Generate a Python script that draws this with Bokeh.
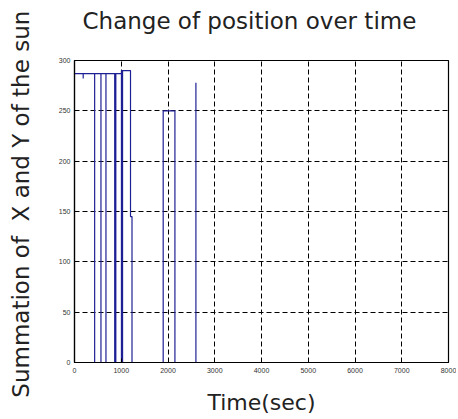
from bokeh.plotting import figure
from bokeh.models import FixedTicker, Range1d, Title
from bokeh.embed import file_html
from bokeh.resources import INLINE

# ---- data ----
time_sec = [0, 186, 186, 186,
            431, 431, 431,
            566, 566, 566,
            673, 673, 673,
            860, 860, 860, 872, 872, 872, 884, 884, 884,
            1004, 1004, 1004, 1016, 1016, 1016, 1028, 1028, 1028,
            1198, 1198, 1230, 1230,
            1897, 1897, 2148, 2148,
            2597, 2597, 2597,
            8000]
xy_sum = [287, 287, 282, 287,
          287, 0, 287,
          287, 0, 287,
          287, 0, 287,
          287, 0, 287, 287, 0, 287, 287, 0, 287,
          287, 0, 290, 290, 0, 290, 290, 0, 290,
          290, 145, 145, 0,
          0, 250, 250, 0,
          0, 278, 0,
          0]
x_ticks = [0, 1000, 2000, 3000, 4000, 5000, 6000, 7000, 8000]
y_ticks = [0, 50, 100, 150, 200, 250, 300]
title_text = "Change of position over time"

p = figure(width=456, height=417, output_backend="svg", toolbar_location=None,
           x_range=Range1d(0, 8000), y_range=Range1d(0, 300),
           min_border_left=74, min_border_right=8, min_border_top=60, min_border_bottom=55,
           title=title_text)

# thin spacer between the frame and the title, pushes the title upwards
spacer = Title(text="\u00a0", text_font_size="2px", standoff=17, text_color="white")
p.add_layout(spacer, "above")

p.line(time_sec, xy_sum, line_color="#1f1f95", line_width=1.2)

p.title.align = "left"
p.title.offset = 8
p.title.vertical_align = "top"
p.title.standoff = 8
p.title.text_font = "DejaVu Sans"
p.title.text_font_size = "23px"
p.title.text_font_style = "normal"
p.title.text_color = "#222222"

for ax in (p.xaxis[0], p.yaxis[0]):
    ax.major_tick_in = 4
    ax.major_tick_out = 0
    ax.minor_tick_line_color = None
    ax.axis_line_color = "black"
    ax.axis_line_width = 1.2
    ax.major_tick_line_color = "black"
    ax.major_label_text_font = "Liberation Sans"
    ax.major_label_text_font_size = "7px"
    ax.major_label_text_color = "#333333"
    ax.axis_label_text_font = "DejaVu Sans"
    ax.axis_label_text_font_style = "normal"
    ax.axis_label_text_color = "#222222"

p.xaxis.axis_label_text_font_size = "22px"
p.yaxis.axis_label_text_font_size = "23px"
p.xaxis.major_label_standoff = 5
p.yaxis.major_label_standoff = 4
p.xaxis.ticker = FixedTicker(ticks=x_ticks)
p.yaxis.ticker = FixedTicker(ticks=y_ticks)
p.xaxis.axis_label = "Time(sec)"
p.yaxis.axis_label = "\u00a0\u00a0Summation of\u00a0 X and Y of the sun"
p.xaxis.axis_label_standoff = 14
p.yaxis.axis_label_standoff = 22

p.grid.grid_line_color = "black"
p.grid.grid_line_dash = "5 3"
p.grid.grid_line_width = 1
p.outline_line_color = "black"
p.outline_line_width = 1.2
p.background_fill_color = "white"
p.border_fill_color = "white"

open("out.html", "w").write(file_html(p, INLINE))
